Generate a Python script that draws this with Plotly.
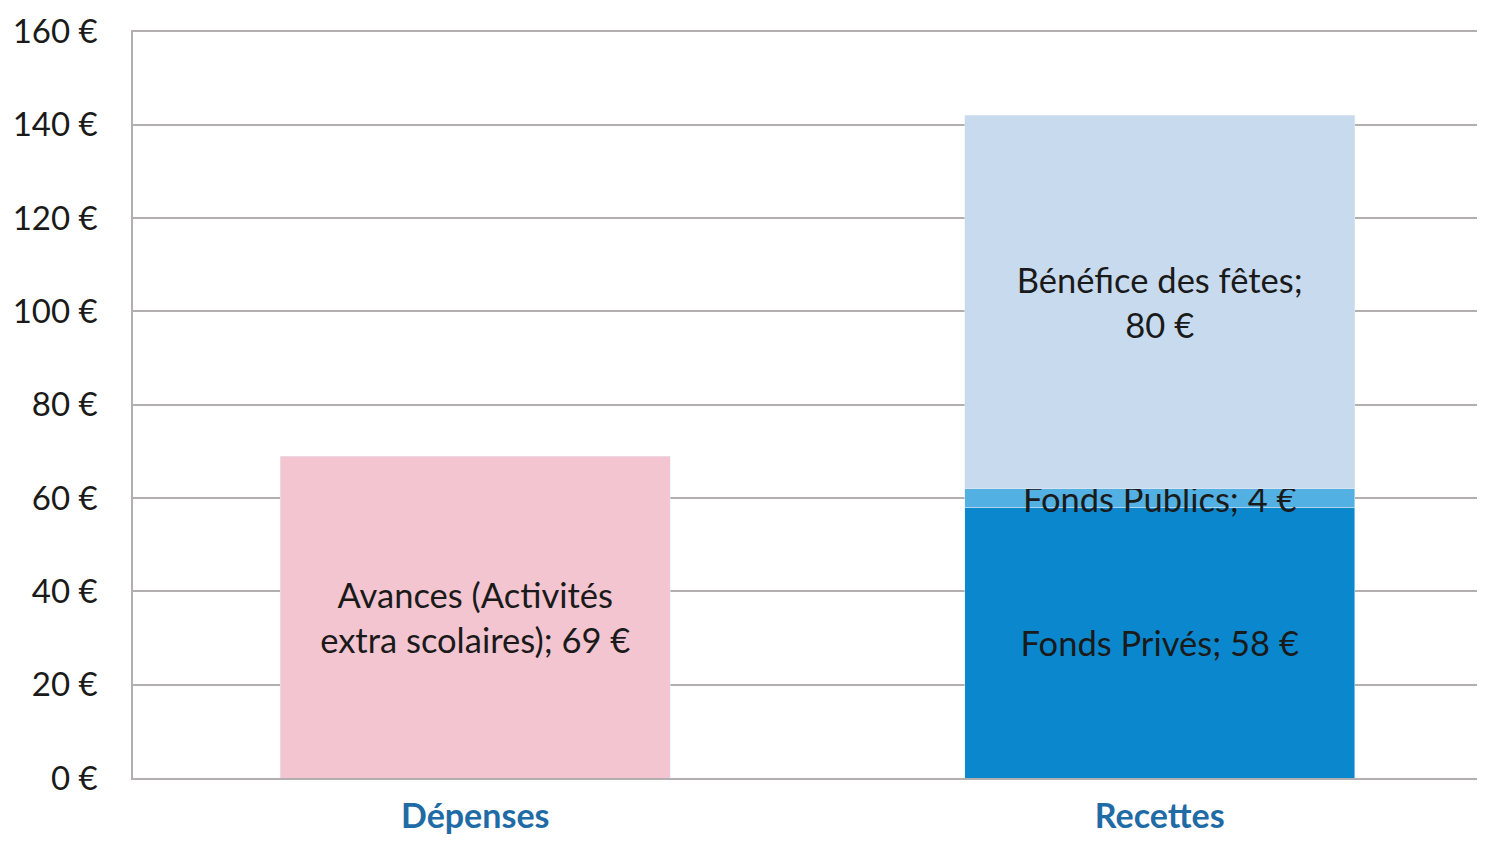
import plotly.graph_objects as go

categories = ["Dépenses", "Recettes"]
avances = [69, None]
fonds_prives = [None, 58]
fonds_publics = [None, 4]
benefice = [None, 80]
tick_vals = [0, 20, 40, 60, 80, 100, 120, 140, 160]
tick_text = [f"{v} €" for v in tick_vals]

FONT = "Lato, Open Sans, sans-serif"
lbl_font = dict(family=FONT, size=34.5, color="#1a1a1a")

fig = go.Figure()
fig.add_trace(go.Bar(x=categories, y=avances, marker_color="#F2C5D0",
                     text=["Avances (Activités<br>extra scolaires); 69 €", ""],
                     textposition="inside", insidetextanchor="middle",
                     constraintext="none", textfont=lbl_font))
fig.add_trace(go.Bar(x=categories, y=fonds_prives, marker_color="#0B88CD",
                     text=["", "Fonds Privés; 58 €"],
                     textposition="inside", insidetextanchor="middle",
                     constraintext="none", textfont=lbl_font))
fig.add_trace(go.Bar(x=categories, y=fonds_publics, marker_color="#52B0E2",
                     text=["", "Fonds Publics; 4 €"],
                     textposition="inside", insidetextanchor="middle",
                     constraintext="none", textfont=lbl_font))
fig.add_trace(go.Bar(x=categories, y=benefice, marker_color="#C8DAEE",
                     text=["", "Bénéfice des fêtes;<br>80 €"],
                     textposition="inside", insidetextanchor="middle",
                     constraintext="none", textfont=lbl_font))

fig.update_layout(
    barmode="stack", bargap=0.43, showlegend=False,
    width=1469, height=830,
    margin=dict(l=125, r=0, t=22, b=60),
    plot_bgcolor="white", paper_bgcolor="white",
    font=dict(family=FONT),
)
fig.update_yaxes(range=[0, 160.3], tickvals=tick_vals, ticktext=tick_text,
                 showgrid=True, gridcolor="#b3aeb0", gridwidth=1.5,
                 showline=True, linecolor="#b3aeb0", linewidth=1.5,
                 zeroline=False, ticks="", ticklen=0, automargin=False,
                 ticklabelstandoff=27,
                 tickfont=dict(family=FONT, size=33, color="#1a1a1a"))
fig.update_xaxes(range=[-0.5, 1.4635], showline=True, linecolor="#b3aeb0",
                 linewidth=1.5, automargin=False, ticklabelstandoff=7,
                 tickfont=dict(family=FONT, size=34, color="#1F6BA6", weight="bold"))
fig.write_html("out.html")
